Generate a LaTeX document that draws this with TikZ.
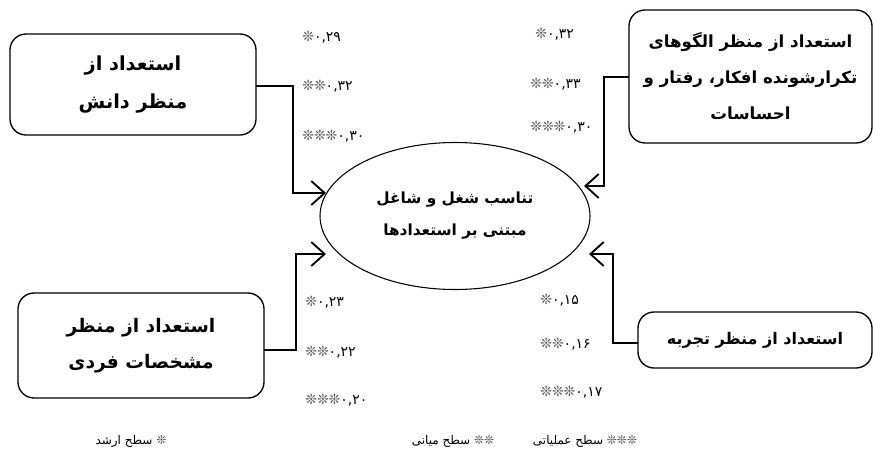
\documentclass[tikz,border=0pt]{standalone}
\usepackage{fontspec}
\TeXXeTstate=1
\newfontfamily\arabicfont[Script=Arabic]{DejaVu Sans}
\newfontfamily\symfont{DejaVu Sans}
\usetikzlibrary{arrows.meta,shapes.geometric}
\newcommand{\stars}[1]{{\symfont\color{black!70}#1}}
\begin{document}
\begin{tikzpicture}[x=0.75pt,y=-0.75pt,
  box/.style={draw,line width=1pt,rounded corners=12pt,align=center,inner sep=0pt},
  conn/.style={line width=1.8pt,line join=miter,
    -{Straight Barb[length=10pt,width=18pt,line width=1.4pt]}},
  coef/.style={anchor=west,inner sep=0pt,font=\arabicfont\fontsize{10.5}{12}\selectfont},
  legend/.style={inner sep=0pt,font=\arabicfont\fontsize{9}{11}\selectfont}]
\useasboundingbox (0,0) rectangle (873,457);

% boxes
\node[box,minimum width=184.5pt,minimum height=75.75pt,
  font=\arabicfont\bfseries\fontsize{14.5}{29}\selectfont] (b1) at (133,84.5)
  {{\beginR استعداد از\endR}\\{\beginR منظر دانش\endR}};
\node[box,minimum width=182.25pt,minimum height=99.75pt,
  font=\arabicfont\bfseries\fontsize{12.5}{27}\selectfont] (b2) at (750.5,76.5)
  {{\beginR استعداد از منظر الگوهای\endR}\\{\beginR تکرارشونده افکار، رفتار و\endR}\\{\beginR احساسات\endR}};
\node[box,minimum width=184.5pt,minimum height=78.75pt,
  font=\arabicfont\bfseries\fontsize{14}{27}\selectfont] (b3) at (141,345.5)
  {{\beginR استعداد از منظر\endR}\\{\beginR مشخصات فردی\endR}};
\node[box,minimum width=175.5pt,minimum height=42pt,
  font=\arabicfont\bfseries\fontsize{12}{14}\selectfont] (b4) at (755,340)
  {\beginR استعداد از منظر تجربه\endR};

% ellipse
\node[ellipse,draw,line width=0.8pt,minimum width=202.5pt,minimum height=110.25pt,
  inner sep=0pt,align=center,font=\arabicfont\bfseries\fontsize{11.5}{24}\selectfont] (e) at (455,216)
  {{\beginR تناسب شغل و شاغل\endR}\\{\beginR مبتنی بر استعدادها\endR}};

% connector points
\coordinate (s1) at (256,86);
\coordinate (k1) at (293,86);
\coordinate (t1) at (326,193);
\coordinate (s2) at (629,77);
\coordinate (k2) at (604,77);
\coordinate (t2) at (584,186);
\coordinate (s3) at (264,350);
\coordinate (k3) at (296,350);
\coordinate (t3) at (326,254);
\coordinate (s4) at (638,343);
\coordinate (k4) at (613,343);
\coordinate (t4) at (589,254);

\draw[conn] (s1) -- (k1) |- (t1);
\draw[conn] (s2) -- (k2) |- (t2);
\draw[conn] (s3) -- (k3) |- (t3);
\draw[conn] (s4) -- (k4) |- (t4);

% coefficients
\node[coef] (c11) at (302,37) {\stars{❊}۰,۲۹};
\node[coef] (c12) at (302,86) {\stars{❊❊}۰,۳۲};
\node[coef] (c13) at (302,136) {\stars{❊❊❊}۰,۳۰};
\node[coef] (c21) at (535,34) {\stars{❊}۰,۳۲};
\node[coef] (c22) at (530,84) {\stars{❊❊}۰,۳۳};
\node[coef] (c23) at (530,127) {\stars{❊❊❊}۰,۳۰};
\node[coef] (c31) at (305,302) {\stars{❊}۰,۲۳};
\node[coef] (c32) at (305,352) {\stars{❊❊}۰,۲۲};
\node[coef] (c33) at (305,400) {\stars{❊❊❊}۰,۲۰};
\node[coef] (c41) at (540,300) {\stars{❊}۰,۱۵};
\node[coef] (c42) at (540,344) {\stars{❊❊}۰,۱۶};
\node[coef] (c43) at (540,392) {\stars{❊❊❊}۰,۱۷};

% legend
\node[legend] (l1) at (131,441) {{\beginR سطح ارشد\endR} \stars{❊}};
\node[legend] (l2) at (453,441) {{\beginR سطح میانی\endR} \stars{❊❊}};
\node[legend] (l3) at (585,441) {{\beginR سطح عملیاتی\endR} \stars{❊❊❊}};
\end{tikzpicture}
\end{document}
